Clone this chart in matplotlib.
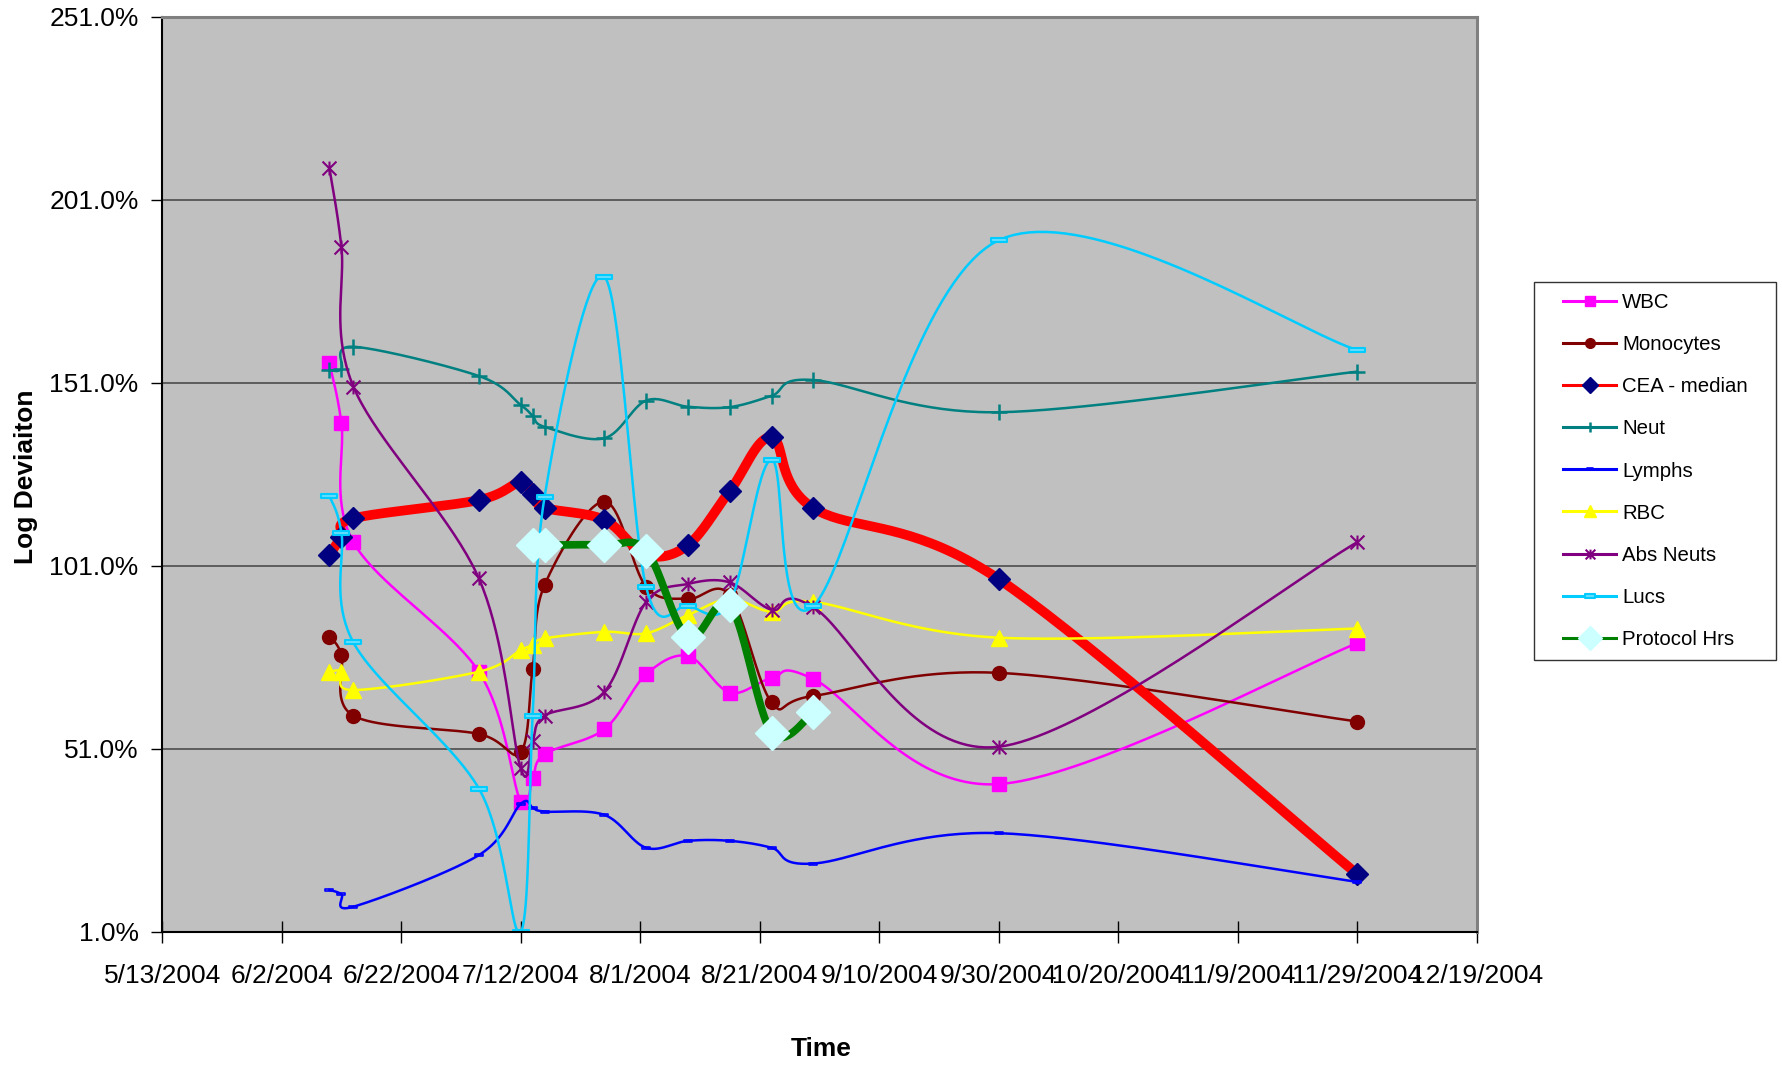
import datetime as dt
import numpy as np
import matplotlib
matplotlib.use('Agg')
import matplotlib.pyplot as plt
import matplotlib.dates as mdates
from matplotlib.lines import Line2D
from matplotlib.legend_handler import HandlerLine2D
from matplotlib.path import Path

plt.rcParams['font.family'] = ['Liberation Sans', 'DejaVu Sans']

dates = ['6/10/2004', '6/12/2004', '6/14/2004', '7/5/2004', '7/12/2004',
         '7/14/2004', '7/16/2004', '7/26/2004', '8/2/2004', '8/9/2004',
         '8/16/2004', '8/23/2004', '8/30/2004', '9/30/2004', '11/29/2004']
protocol_dates = ['7/14/2004', '7/16/2004', '7/26/2004', '8/2/2004',
                  '8/9/2004', '8/16/2004', '8/23/2004', '8/30/2004']

wbc = [156.4, 140, 107.5, 72.1, 36.6, 43, 49.6, 56.4, 71.4, 76.4, 66.4, 70.3, 70.1, 41.4, 79.9]
monocytes = [81.7, 76.7, 60.1, 55.1, 50.1, 72.9, 95.8, 118.6, 95.3, 92, 93, 63.7, 65.5, 71.8, 58.5]
cea_median = [104, 109, 114, 119, 124, 120.6, 116.9, 113.6, 104, 106.7, 121.5, 136.1, 116.8, 97.4, 16.8]
neut = [154.5, 154.8, 160.9, 152.9, 145, 142, 139, 135.9, 146.2, 144.5, 144.4, 147.5, 151.8, 143, 154.1]
lymphs = [12.5, 11.3, 7.9, 22, 36, 35, 33.9, 33, 24, 25.9, 25.9, 24, 19.7, 28, 14.7]
rbc = [72.1, 72.1, 67.1, 72.1, 78, 79.4, 81.2, 83, 82.6, 87.6, 92, 88.5, 91.2, 81.4, 83.9]
abs_neuts = [209.6, 188.1, 150, 97.6, 45.7, 53.3, 60.1, 66.6, 91.2, 96.1, 96.5, 89, 89.7, 51.6, 107.5]
lucs = [120.1, 110.1, 80.1, 40.2, 1, 60.1, 119.9, 180, 95.2, 90.1, 91, 130, 90.1, 190, 160]
protocol_hrs = [106.7, 106.7, 106.7, 105.2, 81.5, 90.3, 55.5, 61]

y_ticks = [1, 51, 101, 151, 201, 251]
x_start, x_end, x_step = '5/13/2004', '12/19/2004', 20


def to_num(s):
    return mdates.date2num(dt.datetime.strptime(s, '%m/%d/%Y'))


# custom markers (excel-ish)
dash = Path([(-1, -0.3), (1, -0.3), (1, 0.3), (-1, 0.3), (-1, -0.3)],
            [Path.MOVETO, Path.LINETO, Path.LINETO, Path.LINETO, Path.CLOSEPOLY])
star = Path([(-1, -1), (1, 1), (-1, 1), (1, -1), (0, -1), (0, 1)],
            [Path.MOVETO, Path.LINETO, Path.MOVETO, Path.LINETO, Path.MOVETO, Path.LINETO])

fig = plt.figure(figsize=(17.82, 10.65), dpi=100)
ax = fig.add_axes([0.0910, 0.1249, 0.7377, 0.8592])
ax.set_facecolor('#C0C0C0')
ax.set_xlim(to_num(x_start), to_num(x_end))
ax.set_ylim(y_ticks[0], y_ticks[-1])


def smooth(xs, ys, n=40):
    # bezier smoothing done in screen space, like the spreadsheet does
    pts = ax.transData.transform(np.column_stack([xs, ys]))
    out = []
    m = len(pts)
    for i in range(m - 1):
        p0 = pts[i - 1] if i > 0 else pts[i]
        p1, p2 = pts[i], pts[i + 1]
        p3 = pts[i + 2] if i + 2 < m else pts[i + 1]
        c1 = p1 + (p2 - p0) / 6
        c2 = p2 - (p3 - p1) / 6
        t = np.linspace(0, 1, n, endpoint=False)[:, None]
        seg = ((1 - t) ** 3) * p1 + 3 * ((1 - t) ** 2) * t * c1 + 3 * (1 - t) * t ** 2 * c2 + t ** 3 * p2
        out.append(seg)
    out.append(pts[-1:])
    curve = ax.transData.inverted().transform(np.vstack(out))
    return curve[:, 0], curve[:, 1], [i * n for i in range(m)]


series = [
    ('WBC', dates, wbc, dict(color='#FF00FF', lw=1.8, marker='s', ms=10.5, mfc='#FF00FF', mec='#FF00FF')),
    ('Monocytes', dates, monocytes, dict(color='#800000', lw=1.8, marker='o', ms=10, mfc='#800000', mec='#800000')),
    ('CEA - median', dates, cea_median, dict(color='#FF0000', lw=7, marker='D', ms=11, mfc='#000080', mec='#000080')),
    ('Neut', dates, neut, dict(color='#008080', lw=1.8, marker='+', ms=11, mew=1.8, mec='#008080')),
    ('Lymphs', dates, lymphs, dict(color='#0000FF', lw=1.8, marker=dash, ms=6, mew=1.2, mfc='none', mec='#0000FF')),
    ('RBC', dates, rbc, dict(color='#FFFF00', lw=1.8, marker='^', ms=12, mfc='#FFFF00', mec='#FFFF00')),
    ('Abs Neuts', dates, abs_neuts, dict(color='#800080', lw=1.8, marker=star, ms=10, mew=1.5, mec='#800080')),
    ('Lucs', dates, lucs, dict(color='#00CCFF', lw=1.8, marker=dash, ms=11, mew=1.5, mfc='#66DDFF', mec='#00CCFF')),
    ('Protocol Hrs', protocol_dates, protocol_hrs, dict(color='#008000', lw=5.5, marker='D', ms=17, mfc='#CCFFFF', mec='#CCFFFF')),
]

handles = []
for name, ds, vals, style in series:
    xs = [to_num(d) for d in ds]
    cx, cy, idx = smooth(xs, vals)
    ax.plot(cx, cy, markevery=idx, solid_joinstyle='round', **style)
    leg_style = dict(style)
    leg_style['lw'] = 2.2
    leg_style['ms'] = style['ms'] * 0.7
    handles.append(Line2D([], [], label=name, **leg_style))

# axes cosmetics
ax.set_yticks(y_ticks)
ax.set_yticklabels([f'{v:.1f}%' for v in y_ticks])
ticks = np.arange(to_num(x_start), to_num(x_end) + 1, x_step)
ax.set_xticks(ticks)
ax.set_xticklabels([f'{d.month}/{d.day}/{d.year}' for d in mdates.num2date(ticks)])
ax.tick_params(axis='both', labelsize=19)
ax.tick_params(axis='x', direction='inout', length=16, width=1, pad=15)
ax.tick_params(axis='y', direction='out', length=8, width=1, pad=9)
ax.yaxis.grid(True, color='#555555', lw=1.3)
ax.set_axisbelow(True)
for s in ['left', 'bottom']:
    ax.spines[s].set_color('black')
    ax.spines[s].set_linewidth(1.5)
for s in ['top', 'right']:
    ax.spines[s].set_color('#808080')
    ax.spines[s].set_linewidth(2.2)

ax.set_xlabel('Time', fontsize=19, fontweight='bold')
ax.xaxis.set_label_coords(0.5017, -0.128)
ax.xaxis.label.set_va('center')
ax.set_ylabel('Log Deviaiton', fontsize=19, fontweight='bold')
ax.yaxis.set_label_coords(-0.1036, 0.497)
ax.yaxis.label.set_va('center')

leg = fig.legend(handles=handles, loc='upper left', bbox_to_anchor=(0.8608, 0.7352, 0.1358, 0.0),
                 mode='expand', fontsize=14.7, frameon=True, fancybox=False,
                 labelspacing=1.13, handlelength=3.48, handletextpad=0.3, borderpad=0.55,
                 borderaxespad=0, handler_map={Line2D: HandlerLine2D(xpad=0.88)})
leg.get_frame().set_edgecolor('black')
leg.get_frame().set_linewidth(1.0)

fig.savefig('out.png', dpi=100, facecolor='white')
